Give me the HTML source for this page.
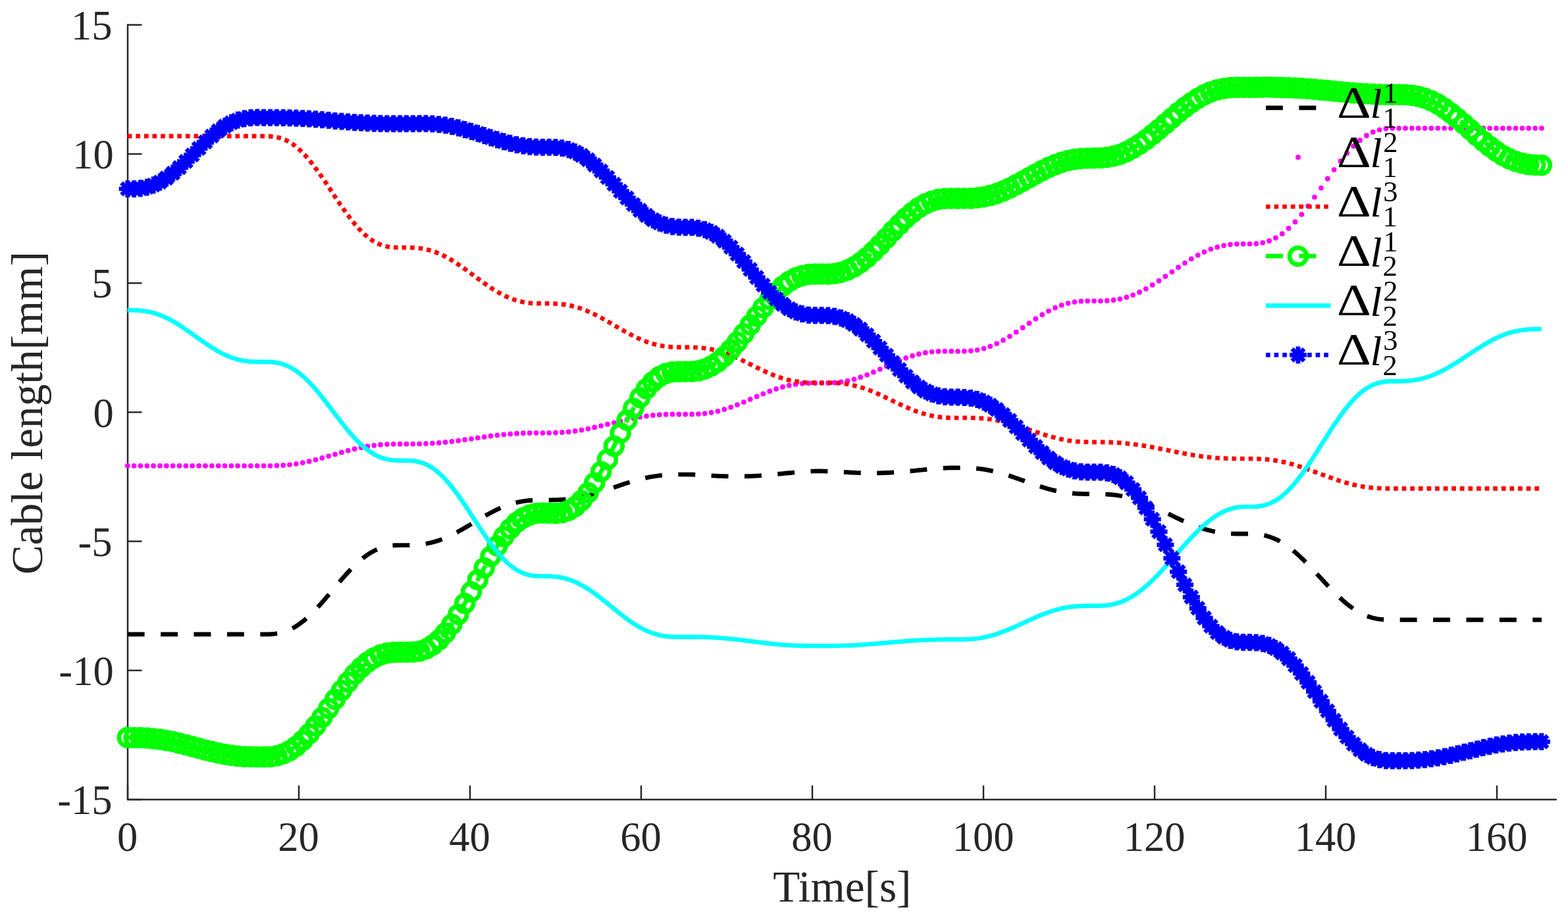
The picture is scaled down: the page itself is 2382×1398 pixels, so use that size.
<!DOCTYPE html>
<html><head><meta charset="utf-8">
<style>html,body{margin:0;padding:0;background:#fff}body{width:2382px;height:1398px;overflow:hidden}svg{display:block}</style>
</head><body>
<svg width="2382" height="1398" viewBox="0 0 2382 1398">
<defs>
<marker id="mo" markerUnits="userSpaceOnUse" markerWidth="40" markerHeight="40" refX="20" refY="20" overflow="visible"><circle cx="20" cy="20" r="12.9" fill="none" stroke="#00ff00" stroke-width="6.7"/></marker>
<marker id="ms" markerUnits="userSpaceOnUse" markerWidth="40" markerHeight="40" refX="20" refY="20" overflow="visible"><path d="M7.0,20H33.0M20,7.0V33.0M10.81,10.81L29.19,29.19M10.81,29.19L29.19,10.81" fill="none" stroke="#0000ff" stroke-width="6.7"/></marker>
<marker id="md" markerUnits="userSpaceOnUse" markerWidth="20" markerHeight="20" refX="10" refY="10" overflow="visible"><circle cx="10" cy="10" r="3.9" fill="#ff00ff"/></marker>
</defs>
<rect width="2382" height="1398" fill="#fff"/>
<g fill="none" stroke="#262626" stroke-width="2.45" stroke-linecap="square">
<path d="M194.0,37.8V1215.0H2363.6"/>
<path d="M194.0,1215.0h21.5" stroke-linecap="butt"/>
<path d="M194.0,1018.8h21.5" stroke-linecap="butt"/>
<path d="M194.0,822.6h21.5" stroke-linecap="butt"/>
<path d="M194.0,626.4h21.5" stroke-linecap="butt"/>
<path d="M194.0,430.2h21.5" stroke-linecap="butt"/>
<path d="M194.0,234.0h21.5" stroke-linecap="butt"/>
<path d="M194.0,37.8h21.5" stroke-linecap="butt"/>
<path d="M194.0,1215.0v-21.5" stroke-linecap="butt"/>
<path d="M454.0,1215.0v-21.5" stroke-linecap="butt"/>
<path d="M714.0,1215.0v-21.5" stroke-linecap="butt"/>
<path d="M974.0,1215.0v-21.5" stroke-linecap="butt"/>
<path d="M1234.0,1215.0v-21.5" stroke-linecap="butt"/>
<path d="M1494.0,1215.0v-21.5" stroke-linecap="butt"/>
<path d="M1754.0,1215.0v-21.5" stroke-linecap="butt"/>
<path d="M2014.0,1215.0v-21.5" stroke-linecap="butt"/>
<path d="M2274.0,1215.0v-21.5" stroke-linecap="butt"/>
</g>
<g font-family="'Liberation Serif', serif" font-size="62.5" fill="#262626">
<text x="170.6" y="1237.2" text-anchor="end">-15</text>
<text x="172.7" y="1041.0" text-anchor="end">-10</text>
<text x="170.6" y="844.8" text-anchor="end">-5</text>
<text x="172.7" y="648.6" text-anchor="end">0</text>
<text x="170.6" y="452.4" text-anchor="end">5</text>
<text x="172.7" y="256.2" text-anchor="end">10</text>
<text x="170.6" y="60.0" text-anchor="end">15</text>
<text x="193.6" y="1293" text-anchor="middle">0</text>
<text x="453.6" y="1293" text-anchor="middle">20</text>
<text x="713.6" y="1293" text-anchor="middle">40</text>
<text x="973.6" y="1293" text-anchor="middle">60</text>
<text x="1233.6" y="1293" text-anchor="middle">80</text>
<text x="1493.6" y="1293" text-anchor="middle">100</text>
<text x="1753.6" y="1293" text-anchor="middle">120</text>
<text x="2013.6" y="1293" text-anchor="middle">140</text>
<text x="2273.6" y="1293" text-anchor="middle">160</text>
</g>
<g font-family="'Liberation Serif', serif" font-size="67.2" fill="#262626">
<text x="1279.3" y="1370.4" text-anchor="middle">Time[s]</text>
<text transform="translate(64.3,627.6) rotate(-90)" text-anchor="middle">Cable length[mm]</text>
</g>
<g fill="none" stroke-linejoin="round">
<polyline points="193.7,963.9 197.0,963.9 200.2,963.9 203.5,963.9 206.7,963.9 210.0,963.9 213.2,963.9 216.5,963.9 219.7,963.9 223.0,963.9 226.2,963.9 229.5,963.9 232.8,963.9 236.0,963.9 239.3,963.9 242.5,963.9 245.8,963.9 249.0,963.9 252.3,963.9 255.5,963.9 258.8,963.9 262.1,963.9 265.3,963.9 268.6,963.9 271.8,963.9 275.1,963.9 278.3,963.9 281.6,963.9 284.8,963.9 288.1,963.9 291.3,963.9 294.6,963.9 297.9,963.9 301.1,963.9 304.4,963.9 307.6,963.9 310.9,963.9 314.1,963.9 317.4,963.9 320.6,963.9 323.9,963.9 327.2,963.9 330.4,963.9 333.7,963.9 336.9,963.9 340.2,963.9 343.4,963.9 346.7,963.9 349.9,963.9 353.2,963.9 356.4,963.9 359.7,963.9 363.0,963.9 366.2,963.9 369.5,963.9 372.7,963.9 376.0,963.9 379.2,963.9 382.5,963.9 385.7,963.9 389.0,963.9 392.3,963.9 395.5,963.9 398.8,963.9 402.0,963.9 405.3,963.8 408.5,963.8 411.8,963.6 415.0,963.4 418.3,963.0 421.5,962.5 424.8,961.9 428.1,961.1 431.3,960.2 434.6,959.1 437.8,957.8 441.1,956.3 444.3,954.7 447.6,952.9 450.8,950.9 454.1,948.7 457.3,946.3 460.6,943.8 463.9,941.1 467.1,938.3 470.4,935.3 473.6,932.1 476.9,928.9 480.1,925.5 483.4,922.0 486.6,918.4 489.9,914.7 493.2,911.0 496.4,907.2 499.7,903.3 502.9,899.5 506.2,895.6 509.4,891.7 512.7,887.9 515.9,884.1 519.2,880.3 522.4,876.6 525.7,872.9 529.0,869.4 532.2,865.9 535.5,862.5 538.7,859.3 542.0,856.2 545.2,853.2 548.5,850.4 551.7,847.8 555.0,845.3 558.3,843.0 561.5,840.9 564.8,838.9 568.0,837.2 571.3,835.6 574.5,834.2 577.8,832.9 581.0,831.9 584.3,831.0 587.5,830.3 590.8,829.7 594.1,829.2 597.3,828.9 600.6,828.7 603.8,828.6 607.1,828.5 610.3,828.5 613.6,828.5 616.8,828.5 620.1,828.5 623.3,828.4 626.6,828.3 629.9,828.2 633.1,827.9 636.4,827.7 639.6,827.3 642.9,826.9 646.1,826.4 649.4,825.8 652.6,825.1 655.9,824.3 659.2,823.5 662.4,822.5 665.7,821.5 668.9,820.3 672.2,819.1 675.4,817.8 678.7,816.4 681.9,814.9 685.2,813.4 688.4,811.8 691.7,810.1 695.0,808.4 698.2,806.6 701.5,804.8 704.7,802.9 708.0,801.0 711.2,799.1 714.5,797.2 717.7,795.2 721.0,793.3 724.3,791.3 727.5,789.4 730.8,787.5 734.0,785.6 737.3,783.7 740.5,781.9 743.8,780.1 747.0,778.4 750.3,776.7 753.5,775.1 756.8,773.5 760.1,772.0 763.3,770.7 766.6,769.3 769.8,768.1 773.1,767.0 776.3,765.9 779.6,764.9 782.8,764.1 786.1,763.3 789.4,762.6 792.6,762.0 795.9,761.5 799.1,761.0 802.4,760.7 805.6,760.4 808.9,760.2 812.1,760.0 815.4,759.9 818.6,759.9 821.9,759.8 825.2,759.8 828.4,759.8 831.7,759.8 834.9,759.8 838.2,759.8 841.4,759.7 844.7,759.6 847.9,759.5 851.2,759.3 854.4,759.1 857.7,758.9 861.0,758.6 864.2,758.2 867.5,757.8 870.7,757.4 874.0,756.9 877.2,756.3 880.5,755.7 883.7,755.1 887.0,754.4 890.3,753.6 893.5,752.8 896.8,752.0 900.0,751.1 903.3,750.1 906.5,749.2 909.8,748.2 913.0,747.2 916.3,746.1 919.5,745.1 922.8,744.0 926.1,742.9 929.3,741.8 932.6,740.7 935.8,739.6 939.1,738.5 942.3,737.4 945.6,736.3 948.8,735.2 952.1,734.1 955.4,733.1 958.6,732.1 961.9,731.1 965.1,730.2 968.4,729.3 971.6,728.4 974.9,727.6 978.1,726.8 981.4,726.1 984.6,725.4 987.9,724.8 991.2,724.2 994.4,723.7 997.7,723.2 1000.9,722.8 1004.2,722.4 1007.4,722.1 1010.7,721.8 1013.9,721.6 1017.2,721.4 1020.5,721.2 1023.7,721.1 1027.0,721.0 1030.2,721.0 1033.5,721.0 1036.7,721.0 1040.0,721.0 1043.2,721.0 1046.5,721.0 1049.7,721.1 1053.0,721.2 1056.3,721.4 1059.5,721.5 1062.8,721.7 1066.0,721.9 1069.3,722.1 1072.5,722.3 1075.8,722.4 1079.0,722.6 1082.3,722.8 1085.5,723.0 1088.8,723.2 1092.1,723.3 1095.3,723.5 1098.6,723.6 1101.8,723.7 1105.1,723.8 1108.3,723.9 1111.6,723.9 1114.8,724.0 1118.1,724.0 1121.4,724.0 1124.6,724.0 1127.9,723.9 1131.1,723.8 1134.4,723.7 1137.6,723.6 1140.9,723.5 1144.1,723.3 1147.4,723.2 1150.6,723.0 1153.9,722.8 1157.2,722.5 1160.4,722.3 1163.7,722.0 1166.9,721.7 1170.2,721.5 1173.4,721.2 1176.7,720.8 1179.9,720.5 1183.2,720.2 1186.5,719.9 1189.7,719.6 1193.0,719.2 1196.2,718.9 1199.5,718.6 1202.7,718.3 1206.0,718.0 1209.2,717.7 1212.5,717.4 1215.7,717.1 1219.0,716.9 1222.3,716.7 1225.5,716.5 1228.8,716.3 1232.0,716.1 1235.3,716.0 1238.5,715.9 1241.8,715.9 1245.0,715.9 1248.3,715.9 1251.6,716.0 1254.8,716.1 1258.1,716.2 1261.3,716.3 1264.6,716.5 1267.8,716.6 1271.1,716.8 1274.3,717.0 1277.6,717.2 1280.8,717.4 1284.1,717.5 1287.4,717.7 1290.6,717.9 1293.9,718.1 1297.1,718.2 1300.4,718.4 1303.6,718.5 1306.9,718.6 1310.1,718.7 1313.4,718.8 1316.6,718.8 1319.9,718.9 1323.2,718.9 1326.4,718.9 1329.7,718.9 1332.9,718.8 1336.2,718.8 1339.4,718.7 1342.7,718.6 1345.9,718.4 1349.2,718.3 1352.5,718.1 1355.7,717.9 1359.0,717.7 1362.2,717.5 1365.5,717.3 1368.7,717.0 1372.0,716.8 1375.2,716.5 1378.5,716.2 1381.7,715.9 1385.0,715.6 1388.3,715.3 1391.5,715.0 1394.8,714.6 1398.0,714.3 1401.3,714.0 1404.5,713.7 1407.8,713.4 1411.0,713.1 1414.3,712.8 1417.6,712.5 1420.8,712.2 1424.1,712.0 1427.3,711.7 1430.6,711.5 1433.8,711.3 1437.1,711.1 1440.3,711.0 1443.6,710.9 1446.8,710.8 1450.1,710.8 1453.4,710.8 1456.6,710.8 1459.9,710.8 1463.1,710.8 1466.4,710.9 1469.6,711.0 1472.9,711.1 1476.1,711.3 1479.4,711.5 1482.6,711.8 1485.9,712.1 1489.2,712.5 1492.4,712.9 1495.7,713.4 1498.9,714.0 1502.2,714.6 1505.4,715.2 1508.7,716.0 1511.9,716.7 1515.2,717.5 1518.5,718.4 1521.7,719.3 1525.0,720.3 1528.2,721.3 1531.5,722.3 1534.7,723.4 1538.0,724.5 1541.2,725.6 1544.5,726.8 1547.7,727.9 1551.0,729.1 1554.3,730.2 1557.5,731.4 1560.8,732.6 1564.0,733.8 1567.3,734.9 1570.5,736.1 1573.8,737.2 1577.0,738.3 1580.3,739.3 1583.6,740.3 1586.8,741.3 1590.1,742.3 1593.3,743.2 1596.6,744.0 1599.8,744.9 1603.1,745.6 1606.3,746.3 1609.6,747.0 1612.8,747.5 1616.1,748.1 1619.4,748.6 1622.6,749.0 1625.9,749.3 1629.1,749.7 1632.4,749.9 1635.6,750.1 1638.9,750.3 1642.1,750.4 1645.4,750.5 1648.7,750.6 1651.9,750.6 1655.2,750.6 1658.4,750.6 1661.7,750.6 1664.9,750.6 1668.2,750.6 1671.4,750.7 1674.7,750.8 1677.9,750.9 1681.2,751.1 1684.5,751.3 1687.7,751.6 1691.0,751.9 1694.2,752.3 1697.5,752.7 1700.7,753.3 1704.0,753.8 1707.2,754.5 1710.5,755.2 1713.7,756.0 1717.0,756.9 1720.3,757.8 1723.5,758.8 1726.8,759.9 1730.0,761.0 1733.3,762.2 1736.5,763.4 1739.8,764.7 1743.0,766.0 1746.3,767.4 1749.6,768.8 1752.8,770.3 1756.1,771.7 1759.3,773.3 1762.6,774.8 1765.8,776.4 1769.1,777.9 1772.3,779.5 1775.6,781.1 1778.8,782.7 1782.1,784.3 1785.4,785.9 1788.6,787.4 1791.9,789.0 1795.1,790.5 1798.4,792.0 1801.6,793.4 1804.9,794.8 1808.1,796.2 1811.4,797.5 1814.7,798.8 1817.9,800.0 1821.2,801.2 1824.4,802.3 1827.7,803.3 1830.9,804.3 1834.2,805.2 1837.4,806.0 1840.7,806.8 1843.9,807.5 1847.2,808.1 1850.5,808.7 1853.7,809.2 1857.0,809.7 1860.2,810.0 1863.5,810.3 1866.7,810.6 1870.0,810.8 1873.2,811.0 1876.5,811.1 1879.8,811.1 1883.0,811.2 1886.3,811.2 1889.5,811.2 1892.8,811.2 1896.0,811.2 1899.3,811.3 1902.5,811.4 1905.8,811.5 1909.0,811.8 1912.3,812.1 1915.6,812.6 1918.8,813.1 1922.1,813.8 1925.3,814.7 1928.6,815.7 1931.8,816.8 1935.1,818.1 1938.3,819.5 1941.6,821.1 1944.8,822.9 1948.1,824.8 1951.4,826.8 1954.6,829.1 1957.9,831.4 1961.1,833.9 1964.4,836.5 1967.6,839.3 1970.9,842.1 1974.1,845.1 1977.4,848.2 1980.7,851.4 1983.9,854.6 1987.2,858.0 1990.4,861.4 1993.7,864.8 1996.9,868.3 2000.2,871.8 2003.4,875.3 2006.7,878.8 2009.9,882.3 2013.2,885.8 2016.5,889.3 2019.7,892.7 2023.0,896.1 2026.2,899.4 2029.5,902.6 2032.7,905.8 2036.0,908.8 2039.2,911.8 2042.5,914.6 2045.8,917.4 2049.0,919.9 2052.3,922.4 2055.5,924.7 2058.8,926.9 2062.0,928.9 2065.3,930.8 2068.5,932.5 2071.8,934.0 2075.0,935.4 2078.3,936.7 2081.6,937.8 2084.8,938.7 2088.1,939.5 2091.3,940.2 2094.6,940.7 2097.8,941.1 2101.1,941.4 2104.3,941.6 2107.6,941.8 2110.9,941.9 2114.1,941.9 2117.4,941.9 2120.6,941.9 2123.9,941.9 2127.1,941.9 2130.4,941.9 2133.6,941.9 2136.9,941.9 2140.1,941.9 2143.4,941.9 2146.7,941.9 2149.9,941.9 2153.2,941.9 2156.4,941.9 2159.7,941.9 2162.9,941.9 2166.2,941.9 2169.4,941.9 2172.7,941.9 2175.9,941.9 2179.2,941.9 2182.5,941.9 2185.7,941.9 2189.0,941.9 2192.2,941.9 2195.5,941.9 2198.7,941.9 2202.0,941.9 2205.2,941.9 2208.5,941.9 2211.8,941.9 2215.0,941.9 2218.3,941.9 2221.5,941.9 2224.8,941.9 2228.0,941.9 2231.3,941.9 2234.5,941.9 2237.8,941.9 2241.0,941.9 2244.3,941.9 2247.6,941.9 2250.8,941.9 2254.1,941.9 2257.3,941.9 2260.6,941.9 2263.8,941.9 2267.1,941.9 2270.3,941.9 2273.6,941.9 2276.9,941.9 2280.1,941.9 2283.4,941.9 2286.6,941.9 2289.9,941.9 2293.1,941.9 2296.4,941.9 2299.6,941.9 2302.9,941.9 2306.1,941.9 2309.4,941.9 2312.7,941.9 2315.9,941.9 2319.2,941.9 2322.4,941.9 2325.7,941.9 2328.9,941.9 2332.2,941.9 2335.4,941.9 2338.7,941.9 2341.9,941.9" stroke="#000" stroke-width="6.7" stroke-dasharray="25.9 24.5"/>
<polyline points="193.7,707.8 203.6,707.8 213.4,707.8 223.3,707.8 233.1,707.8 243.0,707.8 252.8,707.8 262.7,707.8 272.5,707.8 282.4,707.8 292.2,707.8 302.1,707.8 312.0,707.8 321.8,707.8 331.7,707.8 341.5,707.8 351.4,707.8 361.2,707.8 371.1,707.8 380.9,707.8 390.8,707.8 400.6,707.8 410.5,707.8 420.4,707.5 430.2,707.0 440.1,706.1 449.9,704.8 459.8,703.1 469.6,701.0 479.5,698.6 489.3,695.9 499.2,693.1 509.0,690.3 518.9,687.4 528.7,684.7 538.6,682.2 548.5,680.0 558.3,678.2 568.2,676.8 578.0,675.7 587.9,675.1 597.7,674.8 607.6,674.7 617.4,674.7 627.3,674.6 637.1,674.4 647.0,674.1 656.9,673.6 666.7,672.9 676.6,671.9 686.4,670.8 696.3,669.6 706.1,668.2 716.0,666.8 725.8,665.3 735.7,663.9 745.5,662.5 755.4,661.3 765.3,660.3 775.1,659.4 785.0,658.7 794.8,658.2 804.7,657.9 814.5,657.8 824.4,657.8 834.2,657.8 844.1,657.5 853.9,657.0 863.8,656.2 873.7,655.0 883.5,653.4 893.4,651.6 903.2,649.4 913.1,647.1 922.9,644.7 932.8,642.3 942.6,639.8 952.5,637.6 962.3,635.5 972.2,633.7 982.0,632.2 991.9,631.0 1001.8,630.2 1011.6,629.7 1021.5,629.5 1031.3,629.5 1041.2,629.5 1051.0,629.5 1060.9,629.1 1070.7,628.3 1080.6,626.8 1090.4,624.8 1100.3,622.1 1110.2,618.8 1120.0,615.1 1129.9,611.1 1139.7,606.8 1149.6,602.5 1159.4,598.4 1169.3,594.5 1179.1,591.0 1189.0,588.0 1198.8,585.7 1208.7,583.9 1218.6,582.8 1228.4,582.3 1238.3,582.1 1248.1,582.1 1258.0,581.9 1267.8,581.4 1277.7,580.4 1287.5,578.7 1297.4,576.3 1307.2,573.2 1317.1,569.6 1327.0,565.5 1336.8,561.1 1346.7,556.6 1356.5,552.2 1366.4,547.9 1376.2,544.0 1386.1,540.7 1395.9,538.0 1405.8,535.9 1415.6,534.6 1425.5,533.9 1435.3,533.7 1445.2,533.7 1455.1,533.8 1464.9,533.7 1474.8,533.1 1484.6,531.8 1494.5,529.6 1504.3,526.3 1514.2,522.1 1524.0,517.0 1533.9,511.1 1543.7,504.7 1553.6,498.0 1563.5,491.2 1573.3,484.5 1583.2,478.2 1593.0,472.6 1602.9,467.7 1612.7,463.7 1622.6,460.8 1632.4,458.8 1642.3,457.7 1652.1,457.3 1662.0,457.3 1671.9,457.3 1681.7,456.9 1691.6,456.0 1701.4,454.3 1711.3,451.7 1721.1,448.3 1731.0,444.0 1740.8,438.8 1750.7,433.0 1760.5,426.7 1770.4,420.0 1780.3,413.1 1790.1,406.2 1800.0,399.6 1809.8,393.4 1819.7,387.7 1829.5,382.8 1839.4,378.6 1849.2,375.4 1859.1,373.1 1868.9,371.6 1878.8,370.8 1888.6,370.6 1898.5,370.6 1908.4,370.2 1918.2,368.8 1928.1,366.0 1937.9,361.5 1947.8,355.2 1957.6,347.0 1967.5,337.2 1977.3,325.8 1987.2,313.1 1997.0,299.6 2006.9,285.6 2016.8,271.5 2026.6,257.8 2036.5,244.7 2046.3,232.7 2056.2,222.1 2066.0,213.2 2075.9,206.0 2085.7,200.7 2095.6,197.3 2105.4,195.4 2115.3,194.8 2125.2,194.8 2135.0,194.8 2144.9,194.8 2154.7,194.8 2164.6,194.8 2174.4,194.8 2184.3,194.8 2194.1,194.8 2204.0,194.8 2213.8,194.8 2223.7,194.8 2233.6,194.8 2243.4,194.8 2253.3,194.8 2263.1,194.8 2273.0,194.8 2282.8,194.8 2292.7,194.8 2302.5,194.8 2312.4,194.8 2322.2,194.8 2332.1,194.8 2341.9,194.8" stroke="none" marker-start="url(#md)" marker-mid="url(#md)" marker-end="url(#md)"/>
<polyline points="193.7,206.9 197.0,206.9 200.2,206.9 203.5,206.9 206.7,206.9 210.0,206.9 213.2,206.9 216.5,206.9 219.7,206.9 223.0,206.9 226.2,206.9 229.5,206.9 232.8,206.9 236.0,206.9 239.3,206.9 242.5,206.9 245.8,206.9 249.0,206.9 252.3,206.9 255.5,206.9 258.8,206.9 262.1,206.9 265.3,206.9 268.6,206.9 271.8,206.9 275.1,206.9 278.3,206.9 281.6,206.9 284.8,206.9 288.1,206.9 291.3,206.9 294.6,206.9 297.9,206.9 301.1,206.9 304.4,206.9 307.6,206.9 310.9,206.9 314.1,206.9 317.4,206.9 320.6,206.9 323.9,206.9 327.2,206.9 330.4,206.9 333.7,206.9 336.9,206.9 340.2,206.9 343.4,206.9 346.7,206.9 349.9,206.9 353.2,206.9 356.4,206.9 359.7,206.9 363.0,206.9 366.2,206.9 369.5,206.9 372.7,206.9 376.0,206.9 379.2,206.9 382.5,206.9 385.7,206.9 389.0,206.9 392.3,206.9 395.5,206.9 398.8,206.9 402.0,206.9 405.3,207.0 408.5,207.1 411.8,207.3 415.0,207.6 418.3,208.0 421.5,208.7 424.8,209.5 428.1,210.5 431.3,211.7 434.6,213.1 437.8,214.8 441.1,216.7 444.3,218.8 447.6,221.2 450.8,223.8 454.1,226.6 457.3,229.6 460.6,232.9 463.9,236.4 467.1,240.0 470.4,243.9 473.6,247.9 476.9,252.1 480.1,256.5 483.4,261.0 486.6,265.6 489.9,270.2 493.2,275.0 496.4,279.9 499.7,284.7 502.9,289.6 506.2,294.6 509.4,299.5 512.7,304.3 515.9,309.2 519.2,313.9 522.4,318.6 525.7,323.1 529.0,327.6 532.2,331.9 535.5,336.1 538.7,340.1 542.0,343.9 545.2,347.5 548.5,350.9 551.7,354.2 555.0,357.2 558.3,359.9 561.5,362.5 564.8,364.8 568.0,366.8 571.3,368.7 574.5,370.3 577.8,371.7 581.0,372.8 584.3,373.8 587.5,374.5 590.8,375.1 594.1,375.5 597.3,375.8 600.6,376.0 603.8,376.1 607.1,376.1 610.3,376.1 613.6,376.0 616.8,376.1 620.1,376.1 623.3,376.2 626.6,376.3 629.9,376.5 633.1,376.7 636.4,377.1 639.6,377.5 642.9,378.0 646.1,378.6 649.4,379.4 652.6,380.2 655.9,381.2 659.2,382.3 662.4,383.5 665.7,384.8 668.9,386.2 672.2,387.7 675.4,389.3 678.7,391.0 681.9,392.8 685.2,394.7 688.4,396.7 691.7,398.8 695.0,401.0 698.2,403.2 701.5,405.4 704.7,407.7 708.0,410.1 711.2,412.5 714.5,414.9 717.7,417.3 721.0,419.7 724.3,422.1 727.5,424.5 730.8,426.9 734.0,429.3 737.3,431.6 740.5,433.8 743.8,436.1 747.0,438.2 750.3,440.3 753.5,442.3 756.8,444.2 760.1,446.0 763.3,447.8 766.6,449.4 769.8,450.9 773.1,452.3 776.3,453.7 779.6,454.9 782.8,455.9 786.1,456.9 789.4,457.8 792.6,458.5 795.9,459.2 799.1,459.7 802.4,460.1 805.6,460.5 808.9,460.8 812.1,461.0 815.4,461.1 818.6,461.2 821.9,461.2 825.2,461.2 828.4,461.2 831.7,461.2 834.9,461.2 838.2,461.3 841.4,461.4 844.7,461.5 847.9,461.8 851.2,462.0 854.4,462.4 857.7,462.8 861.0,463.3 864.2,463.9 867.5,464.6 870.7,465.4 874.0,466.2 877.2,467.2 880.5,468.2 883.7,469.3 887.0,470.5 890.3,471.8 893.5,473.2 896.8,474.7 900.0,476.2 903.3,477.7 906.5,479.4 909.8,481.1 913.0,482.8 916.3,484.6 919.5,486.4 922.8,488.3 926.1,490.2 929.3,492.1 932.6,494.0 935.8,495.9 939.1,497.8 942.3,499.7 945.6,501.5 948.8,503.4 952.1,505.2 955.4,506.9 958.6,508.7 961.9,510.3 965.1,511.9 968.4,513.5 971.6,515.0 974.9,516.4 978.1,517.7 981.4,519.0 984.6,520.1 987.9,521.2 991.2,522.2 994.4,523.1 997.7,523.9 1000.9,524.7 1004.2,525.3 1007.4,525.9 1010.7,526.3 1013.9,526.7 1017.2,527.0 1020.5,527.3 1023.7,527.4 1027.0,527.6 1030.2,527.7 1033.5,527.7 1036.7,527.7 1040.0,527.7 1043.2,527.7 1046.5,527.7 1049.7,527.8 1053.0,527.8 1056.3,528.0 1059.5,528.1 1062.8,528.3 1066.0,528.6 1069.3,529.0 1072.5,529.4 1075.8,529.9 1079.0,530.5 1082.3,531.1 1085.5,531.9 1088.8,532.7 1092.1,533.6 1095.3,534.6 1098.6,535.6 1101.8,536.7 1105.1,537.9 1108.3,539.2 1111.6,540.5 1114.8,541.8 1118.1,543.2 1121.4,544.7 1124.6,546.2 1127.9,547.7 1131.1,549.3 1134.4,550.9 1137.6,552.5 1140.9,554.1 1144.1,555.7 1147.4,557.3 1150.6,558.9 1153.9,560.5 1157.2,562.1 1160.4,563.6 1163.7,565.1 1166.9,566.5 1170.2,567.9 1173.4,569.3 1176.7,570.6 1179.9,571.8 1183.2,573.0 1186.5,574.1 1189.7,575.1 1193.0,576.0 1196.2,576.9 1199.5,577.7 1202.7,578.4 1206.0,579.1 1209.2,579.6 1212.5,580.1 1215.7,580.5 1219.0,580.8 1222.3,581.1 1225.5,581.3 1228.8,581.5 1232.0,581.6 1235.3,581.6 1238.5,581.7 1241.8,581.7 1245.0,581.7 1248.3,581.7 1251.6,581.6 1254.8,581.6 1258.1,581.6 1261.3,581.6 1264.6,581.7 1267.8,581.8 1271.1,582.0 1274.3,582.2 1277.6,582.5 1280.8,582.8 1284.1,583.2 1287.4,583.7 1290.6,584.3 1293.9,584.9 1297.1,585.7 1300.4,586.5 1303.6,587.3 1306.9,588.3 1310.1,589.3 1313.4,590.4 1316.6,591.5 1319.9,592.7 1323.2,594.0 1326.4,595.3 1329.7,596.7 1332.9,598.1 1336.2,599.6 1339.4,601.1 1342.7,602.6 1345.9,604.2 1349.2,605.7 1352.5,607.3 1355.7,608.9 1359.0,610.5 1362.2,612.0 1365.5,613.6 1368.7,615.1 1372.0,616.6 1375.2,618.1 1378.5,619.5 1381.7,620.9 1385.0,622.3 1388.3,623.6 1391.5,624.8 1394.8,626.0 1398.0,627.1 1401.3,628.1 1404.5,629.1 1407.8,630.0 1411.0,630.8 1414.3,631.5 1417.6,632.2 1420.8,632.8 1424.1,633.3 1427.3,633.7 1430.6,634.1 1433.8,634.4 1437.1,634.6 1440.3,634.8 1443.6,634.9 1446.8,635.0 1450.1,635.0 1453.4,635.0 1456.6,635.0 1459.9,635.0 1463.1,635.0 1466.4,634.9 1469.6,634.9 1472.9,634.9 1476.1,635.0 1479.4,635.1 1482.6,635.2 1485.9,635.3 1489.2,635.5 1492.4,635.8 1495.7,636.1 1498.9,636.4 1502.2,636.9 1505.4,637.3 1508.7,637.8 1511.9,638.4 1515.2,639.0 1518.5,639.7 1521.7,640.4 1525.0,641.2 1528.2,642.0 1531.5,642.9 1534.7,643.8 1538.0,644.7 1541.2,645.7 1544.5,646.7 1547.7,647.8 1551.0,648.8 1554.3,649.9 1557.5,651.0 1560.8,652.1 1564.0,653.2 1567.3,654.3 1570.5,655.4 1573.8,656.5 1577.0,657.5 1580.3,658.6 1583.6,659.6 1586.8,660.7 1590.1,661.7 1593.3,662.6 1596.6,663.5 1599.8,664.4 1603.1,665.2 1606.3,666.0 1609.6,666.8 1612.8,667.5 1616.1,668.1 1619.4,668.7 1622.6,669.3 1625.9,669.7 1629.1,670.2 1632.4,670.5 1635.6,670.9 1638.9,671.1 1642.1,671.4 1645.4,671.5 1648.7,671.7 1651.9,671.7 1655.2,671.8 1658.4,671.8 1661.7,671.8 1664.9,671.8 1668.2,671.8 1671.4,671.8 1674.7,671.9 1677.9,671.9 1681.2,672.0 1684.5,672.1 1687.7,672.2 1691.0,672.3 1694.2,672.5 1697.5,672.7 1700.7,672.9 1704.0,673.2 1707.2,673.4 1710.5,673.7 1713.7,674.1 1717.0,674.4 1720.3,674.8 1723.5,675.2 1726.8,675.7 1730.0,676.1 1733.3,676.6 1736.5,677.1 1739.8,677.7 1743.0,678.2 1746.3,678.8 1749.6,679.4 1752.8,680.0 1756.1,680.6 1759.3,681.2 1762.6,681.9 1765.8,682.5 1769.1,683.2 1772.3,683.8 1775.6,684.5 1778.8,685.2 1782.1,685.8 1785.4,686.5 1788.6,687.1 1791.9,687.8 1795.1,688.4 1798.4,689.0 1801.6,689.6 1804.9,690.2 1808.1,690.8 1811.4,691.3 1814.7,691.9 1817.9,692.4 1821.2,692.8 1824.4,693.3 1827.7,693.7 1830.9,694.1 1834.2,694.5 1837.4,694.9 1840.7,695.2 1843.9,695.5 1847.2,695.8 1850.5,696.0 1853.7,696.2 1857.0,696.4 1860.2,696.5 1863.5,696.7 1866.7,696.8 1870.0,696.9 1873.2,696.9 1876.5,697.0 1879.8,697.0 1883.0,697.0 1886.3,697.0 1889.5,697.0 1892.8,697.0 1896.0,697.0 1899.3,697.0 1902.5,697.1 1905.8,697.1 1909.0,697.2 1912.3,697.3 1915.6,697.5 1918.8,697.7 1922.1,697.9 1925.3,698.2 1928.6,698.6 1931.8,699.0 1935.1,699.4 1938.3,699.9 1941.6,700.5 1944.8,701.1 1948.1,701.7 1951.4,702.4 1954.6,703.2 1957.9,704.0 1961.1,704.9 1964.4,705.8 1967.6,706.8 1970.9,707.7 1974.1,708.8 1977.4,709.9 1980.7,711.0 1983.9,712.1 1987.2,713.2 1990.4,714.4 1993.7,715.6 1996.9,716.8 2000.2,718.0 2003.4,719.2 2006.7,720.5 2009.9,721.7 2013.2,722.9 2016.5,724.1 2019.7,725.3 2023.0,726.4 2026.2,727.6 2029.5,728.7 2032.7,729.8 2036.0,730.9 2039.2,731.9 2042.5,732.9 2045.8,733.8 2049.0,734.7 2052.3,735.6 2055.5,736.4 2058.8,737.1 2062.0,737.8 2065.3,738.5 2068.5,739.0 2071.8,739.6 2075.0,740.1 2078.3,740.5 2081.6,740.9 2084.8,741.2 2088.1,741.5 2091.3,741.7 2094.6,741.9 2097.8,742.0 2101.1,742.2 2104.3,742.2 2107.6,742.3 2110.9,742.3 2114.1,742.3 2117.4,742.3 2120.6,742.3 2123.9,742.3 2127.1,742.3 2130.4,742.3 2133.6,742.3 2136.9,742.3 2140.1,742.3 2143.4,742.3 2146.7,742.3 2149.9,742.3 2153.2,742.3 2156.4,742.3 2159.7,742.3 2162.9,742.3 2166.2,742.3 2169.4,742.3 2172.7,742.3 2175.9,742.3 2179.2,742.3 2182.5,742.3 2185.7,742.3 2189.0,742.3 2192.2,742.3 2195.5,742.3 2198.7,742.3 2202.0,742.3 2205.2,742.3 2208.5,742.3 2211.8,742.3 2215.0,742.3 2218.3,742.3 2221.5,742.3 2224.8,742.3 2228.0,742.3 2231.3,742.3 2234.5,742.3 2237.8,742.3 2241.0,742.3 2244.3,742.3 2247.6,742.3 2250.8,742.3 2254.1,742.3 2257.3,742.3 2260.6,742.3 2263.8,742.3 2267.1,742.3 2270.3,742.3 2273.6,742.3 2276.9,742.3 2280.1,742.3 2283.4,742.3 2286.6,742.3 2289.9,742.3 2293.1,742.3 2296.4,742.3 2299.6,742.3 2302.9,742.3 2306.1,742.3 2309.4,742.3 2312.7,742.3 2315.9,742.3 2319.2,742.3 2322.4,742.3 2325.7,742.3 2328.9,742.3 2332.2,742.3 2335.4,742.3 2338.7,742.3 2341.9,742.3" stroke="#ff0000" stroke-width="6.7" stroke-dasharray="6.7 5.9"/>
<polyline points="193.7,1120.8 203.6,1120.9 213.4,1121.0 223.3,1121.5 233.1,1122.4 243.0,1123.6 252.8,1125.2 262.7,1127.1 272.5,1129.4 282.4,1131.8 292.2,1134.4 302.1,1137.1 312.0,1139.7 321.8,1142.1 331.7,1144.3 341.5,1146.2 351.4,1147.7 361.2,1148.9 371.1,1149.7 380.9,1150.1 390.8,1150.2 400.6,1150.3 410.5,1149.9 420.4,1148.5 430.2,1145.5 440.1,1140.8 449.9,1134.0 459.8,1125.3 469.6,1115.0 479.5,1103.1 489.3,1090.2 499.2,1076.6 509.0,1062.8 518.9,1049.3 528.7,1036.4 538.6,1024.8 548.5,1014.6 558.3,1006.2 568.2,999.7 578.0,995.2 587.9,992.4 597.7,991.2 607.6,990.9 617.4,991.0 627.3,990.8 637.1,989.4 647.0,986.2 656.9,980.6 666.7,972.5 676.6,961.8 686.4,948.8 696.3,933.7 706.1,917.0 716.0,899.2 725.8,881.0 735.7,862.9 745.5,845.6 755.4,829.6 765.3,815.4 775.1,803.4 785.0,793.8 794.8,786.9 804.7,782.4 814.5,780.1 824.4,779.5 834.2,779.7 844.1,780.0 853.9,779.0 863.8,775.8 873.7,769.8 883.5,760.8 893.4,748.7 903.2,733.8 913.1,716.7 922.9,697.9 932.8,678.1 942.6,658.0 952.5,638.6 962.3,620.5 972.2,604.3 982.0,590.7 991.9,579.9 1001.8,572.2 1011.6,567.5 1021.5,565.2 1031.3,564.7 1041.2,564.8 1051.0,564.6 1060.9,563.4 1070.7,560.8 1080.6,556.3 1090.4,549.9 1100.3,541.5 1110.2,531.3 1120.0,519.7 1129.9,507.1 1139.7,493.8 1149.6,480.4 1159.4,467.4 1169.3,455.2 1179.1,444.4 1189.0,435.1 1198.8,427.7 1208.7,422.3 1218.6,418.9 1228.4,417.1 1238.3,416.5 1248.1,416.5 1258.0,416.4 1267.8,415.7 1277.7,413.8 1287.5,410.5 1297.4,405.6 1307.2,399.1 1317.1,391.2 1327.0,382.1 1336.8,372.2 1346.7,361.7 1356.5,351.1 1366.4,340.9 1376.2,331.3 1386.1,322.8 1395.9,315.6 1405.8,309.8 1415.6,305.7 1425.5,303.1 1435.3,301.8 1445.2,301.5 1455.1,301.5 1464.9,301.6 1474.8,301.4 1484.6,300.6 1494.5,299.2 1504.3,297.0 1514.2,294.0 1524.0,290.2 1533.9,285.7 1543.7,280.8 1553.6,275.4 1563.5,269.9 1573.3,264.5 1583.2,259.3 1593.0,254.4 1602.9,250.2 1612.7,246.7 1622.6,243.9 1632.4,242.0 1642.3,240.9 1652.1,240.4 1662.0,240.3 1671.9,240.0 1681.7,239.1 1691.6,237.2 1701.4,234.4 1711.3,230.4 1721.1,225.3 1731.0,219.3 1740.8,212.3 1750.7,204.6 1760.5,196.4 1770.4,187.9 1780.3,179.4 1790.1,171.0 1800.0,163.2 1809.8,155.9 1819.7,149.5 1829.5,144.1 1839.4,139.8 1849.2,136.6 1859.1,134.5 1868.9,133.3 1878.8,132.8 1888.6,132.8 1898.5,132.7 1908.4,132.7 1918.2,132.6 1928.1,132.6 1937.9,132.7 1947.8,132.9 1957.6,133.2 1967.5,133.7 1977.3,134.3 1987.2,135.0 1997.0,135.8 2006.9,136.7 2016.8,137.6 2026.6,138.6 2036.5,139.5 2046.3,140.4 2056.2,141.2 2066.0,142.0 2075.9,142.6 2085.7,143.1 2095.6,143.4 2105.4,143.7 2115.3,143.7 2125.2,143.7 2135.0,143.9 2144.9,144.7 2154.7,146.4 2164.6,149.2 2174.4,153.2 2184.3,158.3 2194.1,164.6 2204.0,171.8 2213.8,179.8 2223.7,188.3 2233.6,197.1 2243.4,205.9 2253.3,214.5 2263.1,222.5 2273.0,229.7 2282.8,236.1 2292.7,241.3 2302.5,245.3 2312.4,248.1 2322.2,249.9 2332.1,250.7 2341.9,250.9" stroke="#00ff00" stroke-width="6.7" stroke-dasharray="25.9 24.5" marker-start="url(#mo)" marker-mid="url(#mo)" marker-end="url(#mo)"/>
<polyline points="193.7,471.4 197.0,471.4 200.2,471.4 203.5,471.5 206.7,471.6 210.0,471.7 213.2,472.0 216.5,472.3 219.7,472.7 223.0,473.2 226.2,473.8 229.5,474.5 232.8,475.4 236.0,476.3 239.3,477.4 242.5,478.5 245.8,479.8 249.0,481.2 252.3,482.7 255.5,484.3 258.8,486.0 262.1,487.8 265.3,489.7 268.6,491.7 271.8,493.7 275.1,495.8 278.3,498.0 281.6,500.2 284.8,502.4 288.1,504.7 291.3,507.0 294.6,509.4 297.9,511.7 301.1,514.0 304.4,516.3 307.6,518.6 310.9,520.9 314.1,523.1 317.4,525.3 320.6,527.4 323.9,529.4 327.2,531.4 330.4,533.3 333.7,535.1 336.9,536.8 340.2,538.4 343.4,539.9 346.7,541.3 349.9,542.6 353.2,543.8 356.4,544.9 359.7,545.8 363.0,546.7 366.2,547.4 369.5,548.0 372.7,548.5 376.0,548.9 379.2,549.3 382.5,549.5 385.7,549.7 389.0,549.8 392.3,549.9 395.5,549.9 398.8,549.9 402.0,549.9 405.3,549.9 408.5,550.0 411.8,550.2 415.0,550.4 418.3,550.8 421.5,551.4 424.8,552.1 428.1,552.9 431.3,554.0 434.6,555.2 437.8,556.6 441.1,558.2 444.3,560.0 447.6,562.0 450.8,564.3 454.1,566.7 457.3,569.3 460.6,572.1 463.9,575.1 467.1,578.2 470.4,581.6 473.6,585.0 476.9,588.6 480.1,592.4 483.4,596.3 486.6,600.2 489.9,604.3 493.2,608.4 496.4,612.6 499.7,616.9 502.9,621.2 506.2,625.5 509.4,629.7 512.7,634.0 515.9,638.2 519.2,642.4 522.4,646.5 525.7,650.6 529.0,654.5 532.2,658.4 535.5,662.1 538.7,665.7 542.0,669.1 545.2,672.4 548.5,675.5 551.7,678.4 555.0,681.1 558.3,683.7 561.5,686.1 564.8,688.2 568.0,690.2 571.3,691.9 574.5,693.5 577.8,694.9 581.0,696.0 584.3,697.0 587.5,697.8 590.8,698.5 594.1,699.0 597.3,699.3 600.6,699.5 603.8,699.7 607.1,699.8 610.3,699.8 613.6,699.8 616.8,699.8 620.1,699.9 623.3,700.0 626.6,700.2 629.9,700.6 633.1,701.2 636.4,701.9 639.6,702.8 642.9,703.8 646.1,705.1 649.4,706.7 652.6,708.4 655.9,710.4 659.2,712.6 662.4,715.1 665.7,717.8 668.9,720.7 672.2,723.8 675.4,727.1 678.7,730.7 681.9,734.4 685.2,738.4 688.4,742.5 691.7,746.8 695.0,751.2 698.2,755.7 701.5,760.4 704.7,765.2 708.0,770.0 711.2,774.9 714.5,779.9 717.7,784.9 721.0,789.9 724.3,794.9 727.5,799.9 730.8,804.8 734.0,809.6 737.3,814.4 740.5,819.1 743.8,823.7 747.0,828.1 750.3,832.4 753.5,836.5 756.8,840.5 760.1,844.3 763.3,847.8 766.6,851.2 769.8,854.4 773.1,857.3 776.3,860.0 779.6,862.5 782.8,864.7 786.1,866.7 789.4,868.5 792.6,870.0 795.9,871.4 799.1,872.5 802.4,873.4 805.6,874.1 808.9,874.7 812.1,875.1 815.4,875.3 818.6,875.5 821.9,875.6 825.2,875.6 828.4,875.6 831.7,875.6 834.9,875.7 838.2,875.9 841.4,876.1 844.7,876.4 847.9,876.8 851.2,877.4 854.4,878.0 857.7,878.8 861.0,879.7 864.2,880.7 867.5,881.8 870.7,883.0 874.0,884.4 877.2,885.9 880.5,887.5 883.7,889.3 887.0,891.1 890.3,893.1 893.5,895.1 896.8,897.3 900.0,899.5 903.3,901.8 906.5,904.2 909.8,906.7 913.0,909.2 916.3,911.8 919.5,914.4 922.8,917.0 926.1,919.6 929.3,922.3 932.6,924.9 935.8,927.6 939.1,930.2 942.3,932.8 945.6,935.3 948.8,937.8 952.1,940.2 955.4,942.6 958.6,944.9 961.9,947.1 965.1,949.2 968.4,951.2 971.6,953.1 974.9,954.9 978.1,956.6 981.4,958.2 984.6,959.6 987.9,960.9 991.2,962.1 994.4,963.2 997.7,964.1 1000.9,965.0 1004.2,965.7 1007.4,966.3 1010.7,966.7 1013.9,967.1 1017.2,967.4 1020.5,967.6 1023.7,967.7 1027.0,967.8 1030.2,967.8 1033.5,967.8 1036.7,967.8 1040.0,967.8 1043.2,967.8 1046.5,967.8 1049.7,967.8 1053.0,967.8 1056.3,967.8 1059.5,967.9 1062.8,967.9 1066.0,968.0 1069.3,968.1 1072.5,968.2 1075.8,968.3 1079.0,968.5 1082.3,968.7 1085.5,968.8 1088.8,969.1 1092.1,969.3 1095.3,969.5 1098.6,969.8 1101.8,970.1 1105.1,970.4 1108.3,970.7 1111.6,971.0 1114.8,971.4 1118.1,971.7 1121.4,972.1 1124.6,972.5 1127.9,972.9 1131.1,973.3 1134.4,973.7 1137.6,974.1 1140.9,974.5 1144.1,974.9 1147.4,975.3 1150.6,975.7 1153.9,976.1 1157.2,976.5 1160.4,976.9 1163.7,977.3 1166.9,977.7 1170.2,978.0 1173.4,978.4 1176.7,978.7 1179.9,979.0 1183.2,979.3 1186.5,979.6 1189.7,979.9 1193.0,980.1 1196.2,980.3 1199.5,980.5 1202.7,980.7 1206.0,980.9 1209.2,981.0 1212.5,981.1 1215.7,981.2 1219.0,981.3 1222.3,981.4 1225.5,981.4 1228.8,981.5 1232.0,981.5 1235.3,981.5 1238.5,981.5 1241.8,981.5 1245.0,981.5 1248.3,981.5 1251.6,981.5 1254.8,981.5 1258.1,981.5 1261.3,981.5 1264.6,981.4 1267.8,981.4 1271.1,981.3 1274.3,981.3 1277.6,981.2 1280.8,981.1 1284.1,981.0 1287.4,980.9 1290.6,980.8 1293.9,980.6 1297.1,980.5 1300.4,980.3 1303.6,980.1 1306.9,979.9 1310.1,979.7 1313.4,979.5 1316.6,979.2 1319.9,979.0 1323.2,978.7 1326.4,978.5 1329.7,978.2 1332.9,977.9 1336.2,977.7 1339.4,977.4 1342.7,977.1 1345.9,976.8 1349.2,976.5 1352.5,976.2 1355.7,975.9 1359.0,975.7 1362.2,975.4 1365.5,975.1 1368.7,974.8 1372.0,974.6 1375.2,974.3 1378.5,974.1 1381.7,973.8 1385.0,973.6 1388.3,973.4 1391.5,973.2 1394.8,973.0 1398.0,972.8 1401.3,972.7 1404.5,972.5 1407.8,972.4 1411.0,972.3 1414.3,972.2 1417.6,972.1 1420.8,972.0 1424.1,971.9 1427.3,971.8 1430.6,971.8 1433.8,971.8 1437.1,971.7 1440.3,971.7 1443.6,971.7 1446.8,971.7 1450.1,971.7 1453.4,971.7 1456.6,971.7 1459.9,971.7 1463.1,971.6 1466.4,971.6 1469.6,971.4 1472.9,971.3 1476.1,971.0 1479.4,970.8 1482.6,970.4 1485.9,970.0 1489.2,969.5 1492.4,968.9 1495.7,968.3 1498.9,967.6 1502.2,966.8 1505.4,966.0 1508.7,965.1 1511.9,964.1 1515.2,963.0 1518.5,961.9 1521.7,960.7 1525.0,959.5 1528.2,958.2 1531.5,956.9 1534.7,955.5 1538.0,954.1 1541.2,952.7 1544.5,951.2 1547.7,949.8 1551.0,948.3 1554.3,946.8 1557.5,945.3 1560.8,943.7 1564.0,942.3 1567.3,940.8 1570.5,939.3 1573.8,937.9 1577.0,936.5 1580.3,935.1 1583.6,933.8 1586.8,932.6 1590.1,931.3 1593.3,930.2 1596.6,929.1 1599.8,928.1 1603.1,927.1 1606.3,926.2 1609.6,925.4 1612.8,924.6 1616.1,923.9 1619.4,923.3 1622.6,922.8 1625.9,922.3 1629.1,921.9 1632.4,921.6 1635.6,921.3 1638.9,921.1 1642.1,920.9 1645.4,920.8 1648.7,920.8 1651.9,920.7 1655.2,920.7 1658.4,920.7 1661.7,920.7 1664.9,920.7 1668.2,920.6 1671.4,920.5 1674.7,920.4 1677.9,920.1 1681.2,919.8 1684.5,919.4 1687.7,918.8 1691.0,918.2 1694.2,917.4 1697.5,916.5 1700.7,915.5 1704.0,914.3 1707.2,912.9 1710.5,911.5 1713.7,909.9 1717.0,908.1 1720.3,906.2 1723.5,904.1 1726.8,901.9 1730.0,899.6 1733.3,897.1 1736.5,894.5 1739.8,891.8 1743.0,888.9 1746.3,886.0 1749.6,882.9 1752.8,879.7 1756.1,876.4 1759.3,873.1 1762.6,869.7 1765.8,866.2 1769.1,862.6 1772.3,859.0 1775.6,855.3 1778.8,851.7 1782.1,847.9 1785.4,844.2 1788.6,840.5 1791.9,836.8 1795.1,833.1 1798.4,829.4 1801.6,825.8 1804.9,822.2 1808.1,818.7 1811.4,815.3 1814.7,811.9 1817.9,808.6 1821.2,805.4 1824.4,802.3 1827.7,799.3 1830.9,796.4 1834.2,793.7 1837.4,791.1 1840.7,788.6 1843.9,786.3 1847.2,784.1 1850.5,782.0 1853.7,780.2 1857.0,778.4 1860.2,776.9 1863.5,775.5 1866.7,774.2 1870.0,773.2 1873.2,772.3 1876.5,771.5 1879.8,770.9 1883.0,770.5 1886.3,770.2 1889.5,770.0 1892.8,770.0 1896.0,770.0 1899.3,770.0 1902.5,770.0 1905.8,769.9 1909.0,769.7 1912.3,769.3 1915.6,768.9 1918.8,768.2 1922.1,767.4 1925.3,766.4 1928.6,765.2 1931.8,763.8 1935.1,762.1 1938.3,760.3 1941.6,758.2 1944.8,755.9 1948.1,753.3 1951.4,750.5 1954.6,747.6 1957.9,744.3 1961.1,740.9 1964.4,737.3 1967.6,733.5 1970.9,729.4 1974.1,725.3 1977.4,720.9 1980.7,716.4 1983.9,711.8 1987.2,707.0 1990.4,702.2 1993.7,697.2 1996.9,692.2 2000.2,687.1 2003.4,682.0 2006.7,676.8 2009.9,671.7 2013.2,666.5 2016.5,661.4 2019.7,656.4 2023.0,651.3 2026.2,646.4 2029.5,641.6 2032.7,636.8 2036.0,632.2 2039.2,627.7 2042.5,623.4 2045.8,619.3 2049.0,615.3 2052.3,611.5 2055.5,607.9 2058.8,604.5 2062.0,601.3 2065.3,598.3 2068.5,595.6 2071.8,593.1 2075.0,590.8 2078.3,588.8 2081.6,586.9 2084.8,585.3 2088.1,583.9 2091.3,582.8 2094.6,581.8 2097.8,581.0 2101.1,580.4 2104.3,579.9 2107.6,579.6 2110.9,579.4 2114.1,579.3 2117.4,579.3 2120.6,579.3 2123.9,579.3 2127.1,579.3 2130.4,579.2 2133.6,579.1 2136.9,578.9 2140.1,578.6 2143.4,578.3 2146.7,577.9 2149.9,577.4 2153.2,576.9 2156.4,576.2 2159.7,575.5 2162.9,574.6 2166.2,573.7 2169.4,572.6 2172.7,571.5 2175.9,570.3 2179.2,568.9 2182.5,567.5 2185.7,566.0 2189.0,564.5 2192.2,562.8 2195.5,561.1 2198.7,559.3 2202.0,557.4 2205.2,555.5 2208.5,553.5 2211.8,551.5 2215.0,549.4 2218.3,547.3 2221.5,545.2 2224.8,543.0 2228.0,540.9 2231.3,538.7 2234.5,536.6 2237.8,534.4 2241.0,532.3 2244.3,530.2 2247.6,528.1 2250.8,526.1 2254.1,524.1 2257.3,522.2 2260.6,520.3 2263.8,518.5 2267.1,516.7 2270.3,515.1 2273.6,513.5 2276.9,512.0 2280.1,510.6 2283.4,509.2 2286.6,508.0 2289.9,506.8 2293.1,505.8 2296.4,504.8 2299.6,504.0 2302.9,503.2 2306.1,502.6 2309.4,502.0 2312.7,501.5 2315.9,501.1 2319.2,500.8 2322.4,500.5 2325.7,500.3 2328.9,500.2 2332.2,500.1 2335.4,500.1 2338.7,500.0 2341.9,500.0" stroke="#00ffff" stroke-width="6.7"/>
<polyline points="193.7,287.0 203.6,286.9 213.4,286.2 223.3,284.4 233.1,281.3 243.0,276.7 252.8,270.6 262.7,263.2 272.5,254.7 282.4,245.3 292.2,235.5 302.1,225.5 312.0,215.8 321.8,206.8 331.7,198.8 341.5,191.9 351.4,186.5 361.2,182.6 371.1,180.2 380.9,179.0 390.8,178.6 400.6,178.7 410.5,178.7 420.4,178.8 430.2,178.9 440.1,179.2 449.9,179.5 459.8,180.0 469.6,180.6 479.5,181.3 489.3,182.0 499.2,182.8 509.0,183.7 518.9,184.5 528.7,185.2 538.6,185.9 548.5,186.6 558.3,187.1 568.2,187.5 578.0,187.8 587.9,188.0 597.7,188.1 607.6,188.1 617.4,188.0 627.3,187.9 637.1,187.7 647.0,187.8 656.9,188.2 666.7,189.0 676.6,190.3 686.4,192.1 696.3,194.3 706.1,196.9 716.0,199.7 725.8,202.8 735.7,206.0 745.5,209.2 755.4,212.3 765.3,215.2 775.1,217.7 785.0,219.9 794.8,221.5 804.7,222.8 814.5,223.5 824.4,223.8 834.2,223.8 844.1,224.0 853.9,225.1 863.8,227.3 873.7,231.0 883.5,236.1 893.4,242.7 903.2,250.7 913.1,259.7 922.9,269.6 932.8,280.0 942.6,290.6 952.5,300.9 962.3,310.7 972.2,319.6 982.0,327.4 991.9,333.9 1001.8,338.8 1011.6,342.3 1021.5,344.3 1031.3,345.3 1041.2,345.4 1051.0,345.6 1060.9,346.7 1070.7,349.0 1080.6,353.1 1090.4,358.9 1100.3,366.5 1110.2,375.6 1120.0,386.1 1129.9,397.5 1139.7,409.5 1149.6,421.6 1159.4,433.3 1169.3,444.3 1179.1,454.1 1189.0,462.4 1198.8,469.1 1208.7,474.0 1218.6,477.1 1228.4,478.7 1238.3,479.2 1248.1,479.3 1258.0,479.6 1267.8,480.8 1277.7,483.3 1287.5,487.3 1297.4,493.0 1307.2,500.1 1317.1,508.7 1327.0,518.4 1336.8,528.9 1346.7,539.8 1356.5,550.8 1366.4,561.5 1376.2,571.5 1386.1,580.4 1395.9,588.0 1405.8,594.1 1415.6,598.6 1425.5,601.5 1435.3,603.1 1445.2,603.6 1455.1,603.6 1464.9,603.9 1474.8,604.9 1484.6,607.1 1494.5,610.7 1504.3,615.7 1514.2,622.3 1524.0,630.1 1533.9,638.9 1543.7,648.6 1553.6,658.6 1563.5,668.8 1573.3,678.6 1583.2,687.8 1593.0,696.0 1602.9,703.1 1612.7,708.7 1622.6,712.8 1632.4,715.5 1642.3,716.9 1652.1,717.4 1662.0,717.4 1671.9,717.5 1681.7,718.4 1691.6,721.1 1701.4,726.0 1711.3,733.6 1721.1,743.7 1731.0,756.5 1740.8,771.7 1750.7,789.0 1760.5,807.9 1770.4,827.8 1780.3,848.4 1790.1,868.8 1800.0,888.7 1809.8,907.3 1819.7,924.3 1829.5,939.1 1839.4,951.5 1849.2,961.3 1859.1,968.3 1868.9,972.9 1878.8,975.3 1888.6,976.0 1898.5,976.0 1908.4,976.4 1918.2,977.8 1928.1,980.8 1937.9,985.5 1947.8,992.3 1957.6,1000.9 1967.5,1011.4 1977.3,1023.5 1987.2,1036.8 1997.0,1051.0 2006.9,1065.6 2016.8,1080.3 2026.6,1094.5 2036.5,1107.9 2046.3,1120.0 2056.2,1130.6 2066.0,1139.4 2075.9,1146.3 2085.7,1151.2 2095.6,1154.2 2105.4,1155.7 2115.3,1156.1 2125.2,1156.1 2135.0,1156.0 2144.9,1155.7 2154.7,1155.1 2164.6,1154.3 2174.4,1153.0 2184.3,1151.5 2194.1,1149.7 2204.0,1147.7 2213.8,1145.4 2223.7,1143.1 2233.6,1140.7 2243.4,1138.4 2253.3,1136.1 2263.1,1134.0 2273.0,1132.1 2282.8,1130.5 2292.7,1129.3 2302.5,1128.3 2312.4,1127.6 2322.2,1127.3 2332.1,1127.1 2341.9,1127.1" stroke="#0000ff" stroke-width="6.7" stroke-dasharray="6.7 5.9" marker-start="url(#ms)" marker-mid="url(#ms)" marker-end="url(#ms)"/>
</g>
<g fill="none">
<path d="M1923.0,163.8H2021.3" stroke="#000" stroke-width="6.7" stroke-dasharray="25.9 24.5"/>
<circle cx="1972.0" cy="238.9" r="3.9" fill="#ff00ff"/>
<path d="M1923.0,314.0H2021.3" stroke="#ff0000" stroke-width="6.7" stroke-dasharray="6.7 5.9"/>
<path d="M1923.0,389.2H2021.3" stroke="#00ff00" stroke-width="6.7" stroke-dasharray="25.9 24.5"/>
<circle cx="1972.0" cy="389.2" r="12.9" stroke="#00ff00" stroke-width="6.7"/>
<path d="M1923.0,464.3H2021.3" stroke="#00ffff" stroke-width="6.7"/>
<path d="M1923.0,539.4H2021.3" stroke="#0000ff" stroke-width="6.7" stroke-dasharray="6.7 5.9"/>
<path transform="translate(1952.0,519.4)" d="M7.0,20H33.0M20,7.0V33.0M10.81,10.81L29.19,29.19M10.81,29.19L29.19,10.81" stroke="#0000ff" stroke-width="6.7"/>
</g>
<g font-family="'Liberation Serif', serif" fill="#000">
<text x="2031.0" y="177.6" font-size="67.2"><tspan textLength="51.8" lengthAdjust="spacingAndGlyphs">Δ</tspan><tspan x="2081.5" y="179.2" font-size="64.0" font-style="italic">l</tspan><tspan x="2101.3" y="156.2" font-size="44.5">1</tspan><tspan x="2100.5" y="194.0" font-size="44.5">1</tspan></text>
<text x="2031.0" y="252.7" font-size="67.2"><tspan textLength="51.8" lengthAdjust="spacingAndGlyphs">Δ</tspan><tspan x="2081.5" y="254.3" font-size="64.0" font-style="italic">l</tspan><tspan x="2101.3" y="231.3" font-size="44.5">2</tspan><tspan x="2100.5" y="269.1" font-size="44.5">1</tspan></text>
<text x="2031.0" y="327.8" font-size="67.2"><tspan textLength="51.8" lengthAdjust="spacingAndGlyphs">Δ</tspan><tspan x="2081.5" y="329.4" font-size="64.0" font-style="italic">l</tspan><tspan x="2101.3" y="306.4" font-size="44.5">3</tspan><tspan x="2100.5" y="344.2" font-size="44.5">1</tspan></text>
<text x="2031.0" y="403.0" font-size="67.2"><tspan textLength="51.8" lengthAdjust="spacingAndGlyphs">Δ</tspan><tspan x="2081.5" y="404.6" font-size="64.0" font-style="italic">l</tspan><tspan x="2101.3" y="381.6" font-size="44.5">1</tspan><tspan x="2100.5" y="419.4" font-size="44.5">2</tspan></text>
<text x="2031.0" y="478.1" font-size="67.2"><tspan textLength="51.8" lengthAdjust="spacingAndGlyphs">Δ</tspan><tspan x="2081.5" y="479.7" font-size="64.0" font-style="italic">l</tspan><tspan x="2101.3" y="456.7" font-size="44.5">2</tspan><tspan x="2100.5" y="494.5" font-size="44.5">2</tspan></text>
<text x="2031.0" y="553.2" font-size="67.2"><tspan textLength="51.8" lengthAdjust="spacingAndGlyphs">Δ</tspan><tspan x="2081.5" y="554.8" font-size="64.0" font-style="italic">l</tspan><tspan x="2101.3" y="531.8" font-size="44.5">3</tspan><tspan x="2100.5" y="569.6" font-size="44.5">2</tspan></text>
</g>
</svg>
</body></html>
